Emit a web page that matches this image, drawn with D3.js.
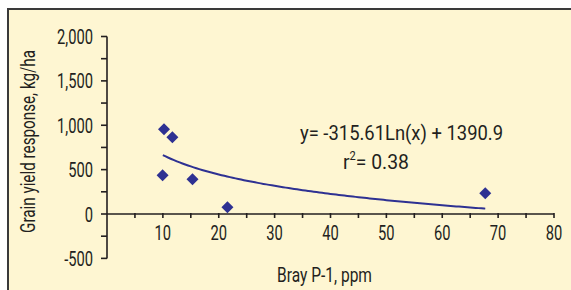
<!DOCTYPE html>
<html><head><meta charset="utf-8">
<script src="https://cdn.jsdelivr.net/npm/d3@7"></script>
<style>
html,body{margin:0;padding:0;background:#fff;}
text{font-family:Roboto,"DejaVu Sans",sans-serif;fill:#231f20;}
</style></head>
<body><svg id="c" width="571" height="290"></svg>
<script>
const bray = [10.2, 11.7, 9.95, 15.3, 21.55, 67.7];
const yieldResp = [954, 864, 436, 391, 75, 233];
const xTicks = [10, 20, 30, 40, 50, 60, 70, 80];
const yTicks = [-500, 0, 500, 1000, 1500, 2000];
const yTickLabels = ["-500", "0", "500", "1,000", "1,500", "2,000"];
const trendCoef = [-315.61, 1390.9];
const trendRange = [10, 67.7];
const eqText = "y= -315.61Ln(x) + 1390.9";
const r2Text = "0.38";

const svg = d3.select("#c");
const ink = "#231f20", blue = "#2e3192";
svg.append("rect").attr("x", 8).attr("y", 9).attr("width", 580).attr("height", 300)
  .attr("fill", "#fef6d2").attr("stroke", "#3a3a3a").attr("stroke-width", 2);

function squeeze(sel, sx) {
  sel.each(function () {
    const w = this.getComputedTextLength();
    d3.select(this).attr("textLength", w * sx).attr("lengthAdjust", "spacingAndGlyphs");
  });
}
function fitTo(sel, w) {
  sel.attr("textLength", w).attr("lengthAdjust", "spacingAndGlyphs");
}

const x = d3.scaleLinear().domain([0, 80]).range([107, 554]);
const y = d3.scaleLinear().domain([0, 2000]).range([214, 36.5]);

// y axis
const gy = svg.append("g").attr("transform", `translate(${x(0)},0)`);
gy.append("line").attr("y1", y(2000)).attr("y2", y(-500)).attr("stroke", ink).attr("stroke-width", 1.6);
gy.selectAll("line.t").data(d3.range(-500, 2001, 250)).join("line").attr("class","t")
  .attr("x1", -6).attr("x2", 0).attr("y1", d => y(d)).attr("y2", d => y(d))
  .attr("stroke", ink).attr("stroke-width", 1.6);
gy.selectAll("text").data(yTicks).join("text")
  .attr("x", -14).attr("y", d => y(d)).attr("dy", "0.36em").attr("text-anchor", "end")
  .attr("font-size", 21).text((d, i) => yTickLabels[i]).call(squeeze, 0.7);

// x axis
const gx = svg.append("g").attr("transform", `translate(0,${y(0)})`);
gx.append("line").attr("x1", x(0)).attr("x2", x(80)).attr("stroke", ink).attr("stroke-width", 1.6);
gx.selectAll("line.t").data(d3.range(5, 81, 5)).join("line").attr("class","t")
  .attr("x1", d => x(d)).attr("x2", d => x(d)).attr("y1", -1).attr("y2", 4)
  .attr("stroke", ink).attr("stroke-width", 1.6);
gx.selectAll("text").data(xTicks).join("text")
  .attr("x", d => x(d)).attr("y", 26).attr("text-anchor", "middle")
  .attr("font-size", 21).text(d => d).call(squeeze, 0.7);

// trendline
const tx = d3.range(trendRange[0], trendRange[1] + 0.001, 0.5).concat([trendRange[1]]);
svg.append("path").datum(tx)
  .attr("d", d3.line().x(d => x(d)).y(d => y(trendCoef[0] * Math.log(d) + trendCoef[1])))
  .attr("fill", "none").attr("stroke", blue).attr("stroke-width", 2);

// points
svg.selectAll("path.pt").data(bray.map((b, i) => [b, yieldResp[i]])).join("path").attr("class","pt")
  .attr("transform", d => `translate(${x(d[0])},${y(d[1])})`)
  .attr("d", "M0,-6L6,0L0,6L-6,0Z").attr("fill", blue);

// labels
svg.append("text").attr("x", 300).attr("y", 140).attr("font-size", 21)
  .text(eqText).call(fitTo, 203);
const r2 = svg.append("text").attr("x", 343).attr("y", 169).attr("font-size", 21);
r2.append("tspan").text("r");
r2.append("tspan").attr("font-size", 12).attr("dy", -9).text("2");
r2.append("tspan").attr("dy", 9).text("= " + r2Text);
r2.call(fitTo, 66);

svg.append("text").attr("x", 324.5).attr("y", 282).attr("text-anchor", "middle")
  .attr("font-size", 20).text("Bray P-1, ppm").call(fitTo, 95);
svg.append("text").attr("transform", "translate(35,141.5) rotate(-90)").attr("text-anchor", "middle")
  .attr("font-size", 20).text("Grain yield response, kg/ha").call(fitTo, 183);
</script></body></html>
